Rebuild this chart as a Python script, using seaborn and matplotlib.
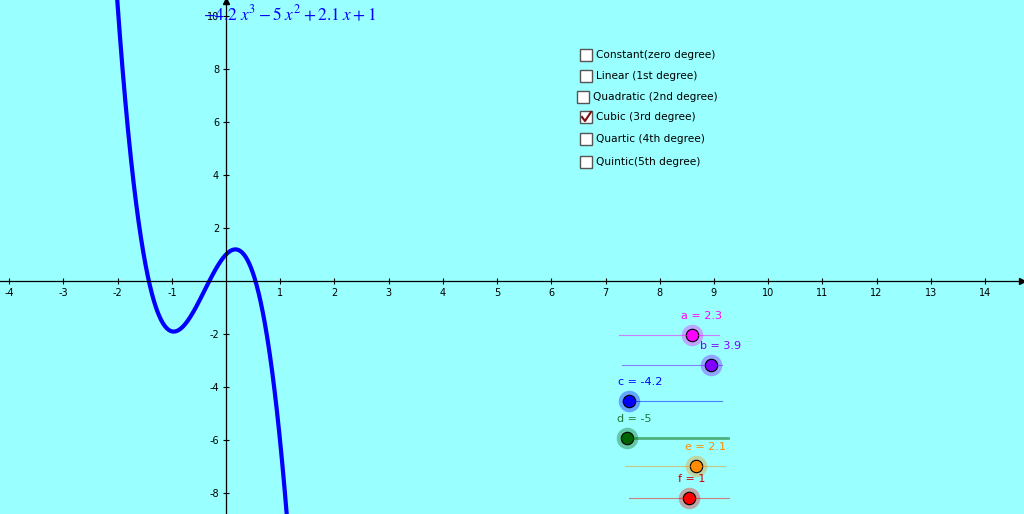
import numpy as np
import matplotlib
matplotlib.use("Agg")
import matplotlib.pyplot as plt
import seaborn as sns
import pandas as pd

plt.rcParams["axes.unicode_minus"] = False
plt.rcParams["mathtext.fontset"] = "stix"

coefs = [-4.2, -5, 2.1, 1]
slider_names = ["a", "b", "c", "d", "e", "f"]
slider_values = [2.3, 3.9, -4.2, -5, 2.1, 1]
slider_colors = ["#ff00ff", "#8000ff", "#0000ff", "#006400", "#ff8c00", "#ff0000"]
label_colors = ["#ff00ff", "#8000ff", "#0000ff", "#1e7a3a", "#ff8c00", "#cc0000"]
checkbox_labels = ["Constant(zero degree)", "Linear (1st degree)", "Quadratic (2nd degree)",
                   "Cubic (3rd degree)", "Quartic (4th degree)", "Quintic(5th degree)"]
checked = [False, False, False, True, False, False]
x_ticks = [t for t in range(-4, 15) if t != 0]
y_ticks = [t for t in range(-8, 11, 2) if t != 0]

bg = "#99ffff"
fig = plt.figure(figsize=(10.24, 5.14), dpi=100, facecolor=bg)
ax = fig.add_axes([0, 0, 1, 1], facecolor=bg)
xs = np.linspace(-4.2, 14.8, 3000)
df = pd.DataFrame({"x": xs, "y": np.polyval(coefs, xs)})
df = df[(df.y > -10) & (df.y < 12)]
sns.lineplot(data=df, x="x", y="y", ax=ax, color="#0000ff", lw=3, sort=False)
ax.set_xlim(-4.17, 14.72)
ax.set_ylim(-8.79, 10.6)
ax.set_xlabel(""); ax.set_ylabel("")
for s in ["top", "right"]:
    ax.spines[s].set_visible(False)
ax.spines["left"].set_position(("data", 0))
ax.spines["bottom"].set_position(("data", 0))
ax.spines["left"].set_linewidth(0.9)
ax.spines["bottom"].set_linewidth(0.9)
ax.set_xticks(x_ticks)
ax.set_yticks(y_ticks)
ax.tick_params(direction="inout", length=4, width=0.8, labelsize=7, pad=3)
ax.plot(14.68, 0, marker=">", color="black", ms=4, clip_on=False)
ax.plot(0, 10.55, marker="^", color="black", ms=4, clip_on=False)
ax.text(-0.42, 10.05, r"$-4.2\;x^3-5\;x^2+2.1\;x+1$", color="#0000ff", fontsize=12.5,
        va="center")

ui = fig.add_axes([0, 0, 1, 1], facecolor="none")
ui.set_xlim(0, 1024); ui.set_ylim(514, 0); ui.axis("off")
box_x = [586, 586, 583, 586, 586, 586]
box_y = [55, 76, 97, 117, 139, 162]
for bx, by, lab, ch in zip(box_x, box_y, checkbox_labels, checked):
    ui.add_patch(plt.Rectangle((bx - 6, by - 6), 12, 12, fc="white", ec="#555555", lw=1))
    if ch:
        ui.plot([bx - 4, bx - 1, bx + 5], [by, by + 4, by - 5], color="#7a1010", lw=1.5)
    ui.text(bx + 10, by, lab, fontsize=7.6, va="center", family="DejaVu Sans")

line_x0 = [619, 622, 622, 622, 625, 629]
line_x1 = [719, 722, 722, 728, 725, 729]
line_y = [335, 365, 401, 438, 466, 498]
pt_x = [692, 711, 629, 627, 696, 689]
lab_x = [681, 700, 618, 617, 685, 678]
lab_y = [316, 346, 382, 419, 447, 479]
for i in range(6):
    lw = 2 if i == 3 else 0.8
    ui.plot([line_x0[i], line_x1[i]], [line_y[i]] * 2, color=slider_colors[i], alpha=0.5, lw=lw)
    ui.scatter([pt_x[i]], [line_y[i]], s=240, color=slider_colors[i], alpha=0.35, lw=0)
    ui.scatter([pt_x[i]], [line_y[i]], s=80, color=slider_colors[i], ec="black", lw=0.8)
    ui.text(lab_x[i], lab_y[i], f"{slider_names[i]} = {slider_values[i]:g}",
            color=label_colors[i], fontsize=8, va="center")

fig.savefig("out.png", dpi=100, facecolor=bg)
